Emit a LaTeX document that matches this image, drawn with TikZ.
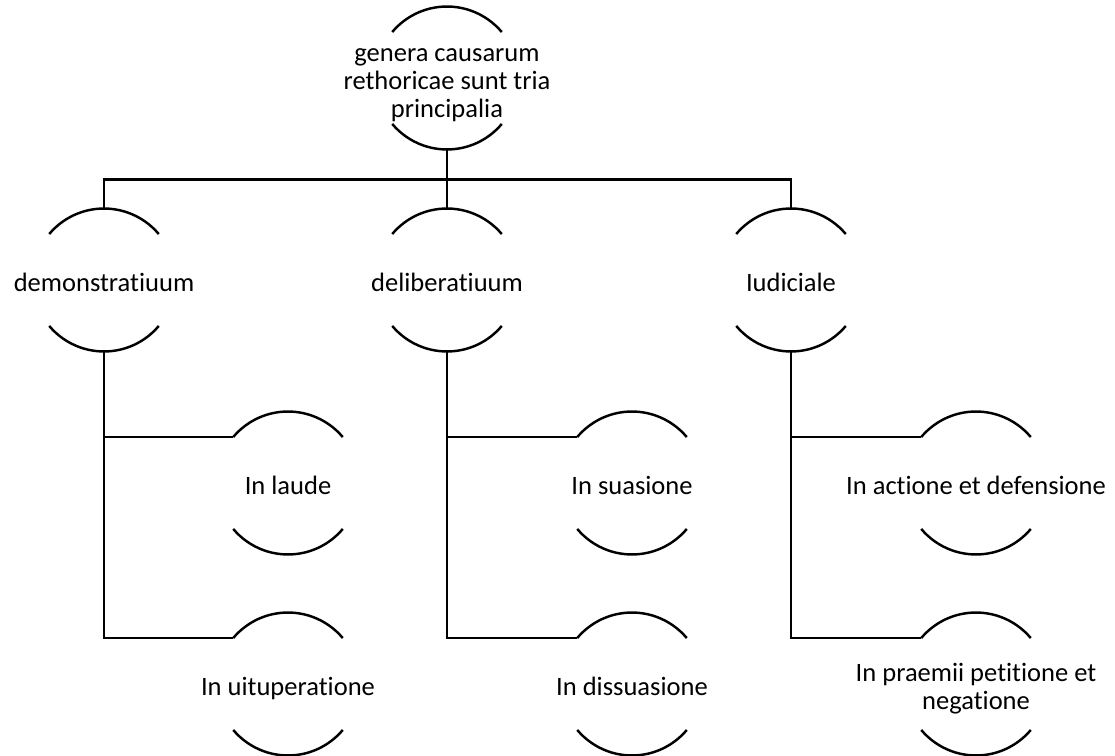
\documentclass[tikz,border=0pt]{standalone}
\usepackage{fontspec}
\setmainfont{Carlito}[Ligatures=NoCommon]
\usepackage{tikz}
\usetikzlibrary{positioning}

% text sits in a box of no width, so every circle keeps its size
\newcommand{\titulus}[1]{\makebox[0pt]{\raisebox{-0.12cm}[\height][\depth]{\begin{tabular}{@{}c@{}}#1\end{tabular}}}}

\tikzset{
    causa/.style={circle, minimum size=2.86cm, inner sep=0pt, outer sep=0pt,
        font=\fontsize{15.1}{16}\selectfont},
    ramus/.style={line width=1.4pt}
}

\begin{document}
\begin{tikzpicture}[x=0.02cm, y=-0.02cm]
            \useasboundingbox (0,0) rectangle (1115,756);
            % radix
            \node[causa] (genera) at (447,78) {\titulus{genera causarum\\rethoricae sunt tria\\principalia}};
            % genera tria
            \node[causa] (demo) at (104,280) {\titulus{demonstratiuum}};
            \node[causa] (delib) at (447,280) {\titulus{deliberatiuum}};
            \node[causa] (iud) at (791,280) {\titulus{Iudiciale}};
            % species
            \node[causa] (laude) at (288,483) {\titulus{In laude}};
            \node[causa] (uitup) at (288,684) {\titulus{In uituperatione}};
            \node[causa] (suas) at (632,483) {\titulus{In suasione}};
            \node[causa] (dissuas) at (632,684) {\titulus{In dissuasione}};
            \node[causa] (actio) at (976,483) {\titulus{In actione et defensione}};
            \node[causa] (praem) at (976,684) {\titulus{In praemii petitione et\\negatione}};
            % arcus
            \foreach \n in {genera, demo, delib, iud, laude, uitup, suas, dissuas, actio, praem} {
                \draw[ramus] (\n.40) arc[start angle=40, end angle=140, radius=1.43cm];
                \draw[ramus] (\n.220) arc[start angle=220, end angle=320, radius=1.43cm];
            }
            % rami
            \draw[ramus] (genera.south) -- (delib.north);
            \draw[ramus] (genera.south) -- ++(0,30) -| (demo.north);
            \draw[ramus] (genera.south) -- ++(0,30) -| (iud.north);
            \draw[ramus] (demo.south) |- (laude.140);
            \draw[ramus] (demo.south) |- (uitup.140);
            \draw[ramus] (delib.south) |- (suas.140);
            \draw[ramus] (delib.south) |- (dissuas.140);
            \draw[ramus] (iud.south) |- (actio.140);
            \draw[ramus] (iud.south) |- (praem.140);
        \end{tikzpicture}
\end{document}
